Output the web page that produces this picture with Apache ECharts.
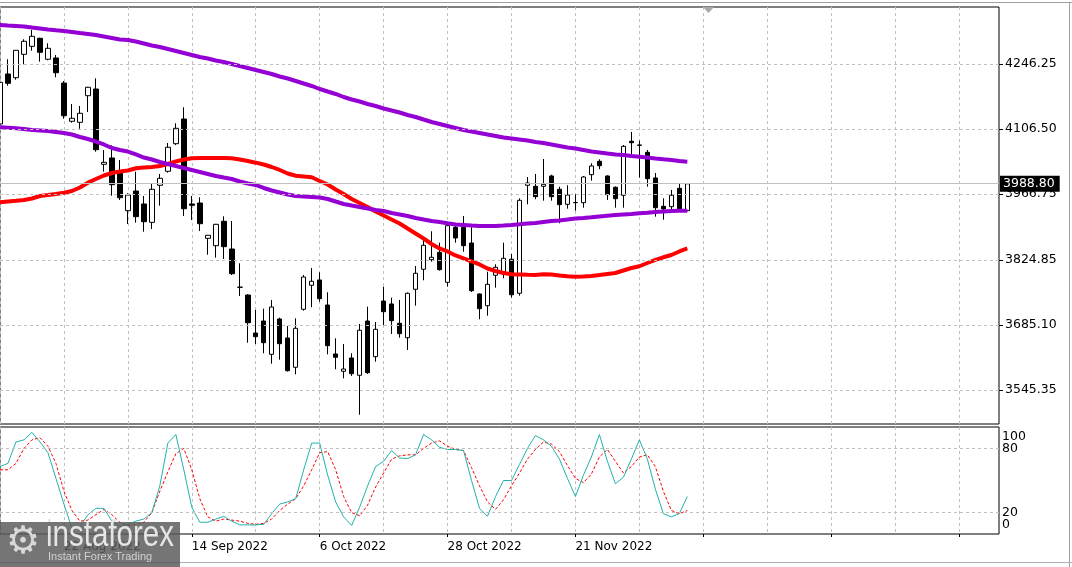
<!DOCTYPE html>
<html><head><meta charset="utf-8">
<script src="https://cdn.jsdelivr.net/npm/echarts@6/dist/echarts.min.js"></script>
<style>html,body{margin:0;padding:0;background:#fff}#c{width:1072px;height:567px}</style>
</head><body><div id="c"></div>
<script>
const dates = [
'10 Aug 2022','11 Aug 2022','12 Aug 2022','15 Aug 2022','16 Aug 2022','17 Aug 2022','18 Aug 2022','19 Aug 2022','22 Aug 2022','23 Aug 2022',
'24 Aug 2022','25 Aug 2022','26 Aug 2022','29 Aug 2022','30 Aug 2022','31 Aug 2022','1 Sep 2022','2 Sep 2022','6 Sep 2022','7 Sep 2022',
'8 Sep 2022','9 Sep 2022','12 Sep 2022','13 Sep 2022','14 Sep 2022','15 Sep 2022','16 Sep 2022','19 Sep 2022','20 Sep 2022','21 Sep 2022',
'22 Sep 2022','23 Sep 2022','26 Sep 2022','27 Sep 2022','28 Sep 2022','29 Sep 2022','30 Sep 2022','3 Oct 2022','4 Oct 2022','5 Oct 2022',
'6 Oct 2022','7 Oct 2022','10 Oct 2022','11 Oct 2022','12 Oct 2022','13 Oct 2022','14 Oct 2022','17 Oct 2022','18 Oct 2022','19 Oct 2022',
'20 Oct 2022','21 Oct 2022','24 Oct 2022','25 Oct 2022','26 Oct 2022','27 Oct 2022','28 Oct 2022','31 Oct 2022','1 Nov 2022','2 Nov 2022',
'3 Nov 2022','4 Nov 2022','7 Nov 2022','8 Nov 2022','9 Nov 2022','10 Nov 2022','11 Nov 2022','14 Nov 2022','15 Nov 2022','16 Nov 2022',
'17 Nov 2022','18 Nov 2022','21 Nov 2022','22 Nov 2022','23 Nov 2022','25 Nov 2022','28 Nov 2022','29 Nov 2022','30 Nov 2022','1 Dec 2022',
'2 Dec 2022','5 Dec 2022','6 Dec 2022','7 Dec 2022','8 Dec 2022','9 Dec 2022','12 Dec 2022'];

const opens = [
4117.3,4224.8,4216.8,4267.1,4284.3,4301.5,4256.4,4259.2,4205.4,4123.1,
4120.9,4178.1,4192.5,4030.6,4044.2,4011.3,3930.9,3973.2,3945.3,3905.9,
3985.5,4015.6,4074.9,4128.0,3945.3,3947.4,3871.5,3855.6,3908.1,3848.5,
3766.2,3749.6,3667.9,3693.7,3622.1,3698.0,3657.2,3594.2,3718.9,3770.5,
3781.9,3728.1,3622.8,3585.6,3614.2,3577.0,3693.7,3617.0,3736.7,3730.3,
3688.8,3657.8,3761.9,3804.9,3825.5,3841.4,3776.9,3895.2,3895.2,3861.4,
3751.8,3726.6,3792.0,3799.7,3826.4,3753.3,3985.5,3983.3,3983.3,4005.5,
3976.9,3944.6,3948.1,3948.1,4008.3,4037.1,4005.5,3981.2,3964.0,4080.1,
4072.1,4056.4,4001.2,3940.3,3939.5,3979.0,3930.9];
const closes = [
4206.9,4204.8,4275.7,4295.1,4305.8,4271.4,4280.0,4227.5,4135.1,4129.5,
4140.3,4196.2,4062.0,4034.9,3986.8,3958.8,3964.6,3918.0,3907.2,3976.9,
4000.5,4067.2,4108.0,3935.1,3942.5,3902.9,3878.0,3901.6,3853.5,3795.4,
3766.5,3690.0,3660.0,3647.1,3723.8,3644.9,3586.9,3678.0,3788.3,3779.1,
3741.7,3640.6,3615.7,3590.5,3580.4,3673.8,3582.6,3675.9,3713.7,3694.4,
3666.4,3753.3,3796.3,3856.5,3830.7,3804.0,3898.6,3872.2,3855.6,3758.8,
3720.2,3772.6,3809.2,3828.5,3750.1,3953.2,3990.4,3961.0,3987.6,3961.0,
3943.8,3964.6,3948.5,4003.3,4027.0,4027.6,3965.3,3956.7,4069.3,4077.1,
4071.5,3999.7,3937.3,3934.5,3964.0,3933.9,3988.8];
const lows = [
4110.8,4199.6,4212.5,4245.6,4274.9,4251.2,4254.2,4217.7,4128.6,4120.1,
4107.1,4143.1,4057.7,4014.7,3963.1,3953.9,3902.3,3905.1,3885.7,3891.5,
3941.6,4012.6,4072.1,3919.5,3910.9,3887.2,3836.3,3829.8,3827.0,3792.6,
3747.5,3647.1,3644.3,3624.3,3601.9,3610.5,3585.0,3579.1,3715.9,3723.2,
3735.2,3622.1,3589.9,3570.5,3575.5,3492.3,3580.0,3606.2,3685.1,3665.8,
3657.8,3631.4,3726.6,3781.2,3821.2,3802.0,3767.5,3862.1,3842.7,3756.0,
3697.4,3705.1,3765.3,3785.5,3743.8,3748.1,3944.6,3955.5,3952.4,3952.4,
3903.8,3935.2,3930.9,3937.3,3995.4,4019.9,3953.9,3937.3,3937.3,4051.3,
4001.8,3982.5,3918.0,3911.5,3934.5,3932.0,3930.0];
const highs = [
4211.9,4256.4,4276.4,4299.4,4319.4,4303.0,4290.8,4265.6,4209.7,4160.3,
4156.0,4197.0,4215.5,4061.4,4071.5,4039.9,3968.3,4014.7,3962.5,3988.3,
4009.8,4076.4,4118.8,4153.2,3962.5,3959.7,3878.5,3902.5,3918.8,3908.7,
3817.8,3751.0,3717.4,3720.2,3738.9,3700.8,3683.0,3699.5,3792.6,3807.7,
3798.4,3755.4,3656.5,3644.3,3624.3,3687.3,3724.5,3691.6,3767.5,3743.8,
3738.9,3755.0,3812.0,3867.9,3886.6,3862.1,3906.6,3900.1,3919.5,3895.2,
3753.0,3799.7,3815.6,3862.1,3837.8,3957.5,4003.3,4009.8,4042.0,4008.3,
3982.5,3985.5,3966.1,4005.5,4032.8,4041.4,4007.0,3983.0,4072.1,4100.1,
4081.4,4061.4,4011.9,3957.5,3975.4,3988.3,3989.5];

const maSlow = [
4330.1,4329.0,4328.0,4326.9,4324.7,4322.6,4320.4,4318.7,4317.2,4315.1,
4312.9,4310.8,4308.6,4305.4,4302.2,4298.9,4297.9,4294.6,4290.3,4286.0,
4282.8,4278.5,4274.2,4269.9,4265.6,4261.3,4258.1,4253.8,4250.5,4246.3,
4242.0,4237.7,4233.4,4229.1,4224.8,4219.4,4215.1,4209.7,4204.3,4199.0,
4192.5,4187.1,4181.8,4175.3,4169.9,4165.6,4160.3,4156.0,4150.6,4146.3,
4142.0,4136.6,4132.3,4126.9,4121.6,4117.3,4113.0,4108.7,4104.4,4101.1,
4097.9,4094.7,4091.5,4088.2,4086.1,4083.9,4081.8,4078.6,4076.4,4073.2,
4070.0,4066.7,4064.6,4061.4,4058.1,4056.0,4053.8,4051.7,4050.6,4048.5,
4047.0,4045.2,4043.1,4041.4,4039.9,4037.7,4036.2];
const maMid = [
4110.2,4109.1,4108.0,4106.5,4104.4,4103.3,4102.2,4100.1,4097.9,4094.7,
4089.3,4085.0,4079.6,4073.2,4065.7,4061.4,4058.1,4051.7,4045.2,4040.9,
4035.6,4031.3,4027.0,4022.7,4018.4,4014.1,4009.8,4005.5,4002.2,3999.0,
3993.6,3989.3,3986.1,3979.7,3974.3,3970.0,3965.7,3962.5,3961.4,3960.3,
3959.2,3956.0,3950.6,3945.3,3942.0,3938.8,3935.6,3932.4,3930.2,3925.9,
3922.7,3919.5,3915.2,3911.9,3908.7,3906.6,3903.8,3901.2,3900.1,3899.0,
3898.0,3898.0,3898.0,3899.0,3900.1,3901.6,3903.3,3904.4,3906.6,3908.7,
3909.8,3911.9,3914.1,3915.2,3916.7,3918.4,3920.1,3921.6,3922.7,3923.8,
3925.3,3926.6,3928.1,3929.1,3930.2,3930.7,3930.9];
const maFast = [
3948.9,3950.6,3952.1,3953.9,3957.1,3962.5,3964.6,3966.8,3969.6,3973.2,
3980.8,3991.1,3999.0,4006.5,4011.9,4015.1,4017.3,4022.0,4023.8,4024.8,
4027.0,4031.3,4036.6,4040.9,4043.5,4044.2,4044.2,4044.2,4044.2,4043.5,
4040.9,4037.7,4034.1,4030.2,4024.8,4018.4,4010.8,4006.1,4004.4,4002.7,
3994.7,3987.2,3976.4,3966.8,3956.0,3947.4,3938.8,3929.2,3920.6,3912.0,
3903.4,3892.6,3881.9,3871.1,3859.3,3849.6,3843.2,3834.6,3828.1,3821.7,
3815.2,3806.6,3801.2,3796.9,3794.2,3793.7,3793.1,3792.6,3794.2,3793.7,
3791.6,3789.9,3789.0,3789.4,3790.5,3792.6,3794.8,3796.9,3802.3,3807.7,
3811.4,3818.4,3824.9,3830.7,3835.6,3843.2,3849.6];

const stochK = [
63,66,86,88,95,86,76,52,28,5,
7,18,24,24,12,7,9,12,14,20,
45,85,93,60,25,11,11,14,16.5,12,
8.5,8.5,8.5,9,19,28,30,33,60,85,
85,55,30,16,8,25,45,63,68,78,
71,70.5,74,93,88,81,79,79,78,50,
24,16.5,35,50,50,65,80,92,88,82,
70,52,35,55,72,93,68,47,53,70,
88,70,42,19,16,19,35];
const stochD = [
60,60,66,80,88,90,82,66,40,22,
12,13,18,23,18,11,8,9,11,20,
40,58,75,80,60,33,16,12,14,13,
12,10,9,10,14,22,28,33,45,60,
76,77,60,35,20,17,27,44,57,70,
73,74,74,80,85,87,82,79,78,62,
45,30,23,32,45,57,70,79,86,84,
77,64,52,48,56,72,79,68,57,63,
72,74,63,40,22,19,22];

const priceTicks = [3545.35, 3685.10, 3824.85, 3966.75, 4106.50, 4246.25];
const stochLevels = [20, 80];
const stochTop = [100];
const stochBottom = [0];
const lastPrice = 3988.80;
const futureBars = 39;

const cats = dates.concat(new Array(futureBars).fill(''));
const candles = dates.map((d, i) => [opens[i], closes[i], lows[i], highs[i]]);
const FONT = 'DejaVu Sans';
const GRID_LS = {color: '#c0c0c0', type: [3, 3], width: 1};
const labelEvery = (i) => i % 16 === 8;

function stochAxis(values, vAlign, pad) {
  return {type: 'value', gridIndex: 1, position: 'right', min: 0, max: 100,
    axisLine: {show: false}, axisTick: {show: false}, splitLine: {show: false},
    axisLabel: {customValues: values, showMinLabel: true, showMaxLabel: true, hideOverlap: false,
      margin: 3, color: '#000', fontSize: 12.5, fontFamily: FONT, verticalAlign: vAlign, padding: pad}};
}

const chart = echarts.init(document.getElementById('c'), null, {renderer: 'canvas'});
chart.setOption({
  animation: false,
  backgroundColor: '#fff',
  grid: [
    {left: -1, top: 7, width: 1000, height: 417, show: true, borderColor: '#000', borderWidth: 1},
    {left: -1, top: 427, width: 1000, height: 107, show: true, borderColor: '#000', borderWidth: 1}
  ],
  xAxis: [
    {type: 'category', gridIndex: 0, data: cats, boundaryGap: false,
     axisLine: {show: false}, axisTick: {show: false}, axisLabel: {show: false},
     splitLine: {show: true, interval: 7, lineStyle: GRID_LS}},
    {type: 'category', gridIndex: 1, data: cats, boundaryGap: false,
     axisLine: {show: false},
     axisTick: {show: true, interval: labelEvery, length: 3, lineStyle: {color: '#000'}},
     axisLabel: {show: true, interval: labelEvery, align: 'left', margin: 7, color: '#000', fontSize: 12, fontFamily: FONT},
     splitLine: {show: true, interval: 7, lineStyle: GRID_LS}}
  ],
  yAxis: [
    {type: 'value', gridIndex: 0, position: 'right', min: 3472.25, max: 4368.8,
     axisLine: {show: false},
     axisTick: {show: true, customValues: priceTicks, length: 4, lineStyle: {color: '#000'}},
     axisLabel: {customValues: priceTicks, formatter: (v) => v.toFixed(2), margin: 6, color: '#000', fontSize: 12.5, fontFamily: FONT},
     splitLine: {show: false}},
    stochAxis(stochLevels, 'middle', 0),
    stochAxis(stochTop, 'top', [3, 0, 0, 0]),
    stochAxis(stochBottom, 'bottom', [0, 0, 3, 0])
  ],
  series: [
    {type: 'line', xAxisIndex: 0, yAxisIndex: 0, data: [], z: 1,
     markLine: {silent: true, symbol: 'none', animation: false, label: {show: false},
       lineStyle: GRID_LS, data: priceTicks.map(v => ({yAxis: v}))}},
    {type: 'line', xAxisIndex: 1, yAxisIndex: 1, data: [], z: 1,
     markLine: {silent: true, symbol: 'none', animation: false, label: {show: false},
       lineStyle: GRID_LS, data: stochLevels.map(v => ({yAxis: v}))}},
    {type: 'candlestick', xAxisIndex: 0, yAxisIndex: 0, data: candles, barWidth: 5,
     itemStyle: {color: '#fff', color0: '#000', borderColor: '#000', borderColor0: '#000', borderWidth: 1},
     markLine: {silent: true, symbol: 'none', animation: false,
       lineStyle: {color: '#c0c0c0', type: 'solid', width: 1},
       label: {position: 'end', formatter: lastPrice.toFixed(2), backgroundColor: '#000', color: '#fff',
               padding: [2, 5, 1, 3], distance: 1, fontSize: 12.5, fontFamily: FONT},
       data: [{yAxis: lastPrice}]}},
    {type: 'line', xAxisIndex: 0, yAxisIndex: 0, data: maFast, symbol: 'none', lineStyle: {color: '#ff0000', width: 4}},
    {type: 'line', xAxisIndex: 0, yAxisIndex: 0, data: maMid, symbol: 'none', lineStyle: {color: '#9400d3', width: 4}},
    {type: 'line', xAxisIndex: 0, yAxisIndex: 0, data: maSlow, symbol: 'none', lineStyle: {color: '#9400d3', width: 4}},
    {type: 'line', xAxisIndex: 1, yAxisIndex: 1, data: stochD, symbol: 'none', lineStyle: {color: '#ff0000', width: 1, type: [3, 2]}},
    {type: 'line', xAxisIndex: 1, yAxisIndex: 1, data: stochK, symbol: 'none', lineStyle: {color: '#20b2aa', width: 1}}
  ],
  graphic: [
    {type: 'line', shape: {x1: 0, y1: 2.5, x2: 1072, y2: 2.5}, style: {stroke: '#a0a0a0', lineWidth: 1}, silent: true},
    {type: 'line', shape: {x1: 1069.5, y1: 2.5, x2: 1069.5, y2: 567}, style: {stroke: '#a0a0a0', lineWidth: 1}, silent: true},
    {type: 'line', shape: {x1: 0, y1: 562.5, x2: 1072, y2: 562.5}, style: {stroke: '#b0b0b0', lineWidth: 1}, silent: true},
    {type: 'polygon', shape: {points: [[703, 7], [714, 7], [708.5, 13]]}, style: {fill: '#a8a8a8'}, silent: true},
    {type: 'rect', shape: {x: 0, y: 522, width: 180, height: 45}, style: {fill: 'rgba(90,90,90,0.84)'}, silent: true, z: 100},
    {type: 'text', x: 6, y: 524, style: {text: '\u2699', fill: '#d8d8d8', font: '38px DejaVu Sans'}, silent: true, z: 101},
    {type: 'text', x: 46, y: 518, scaleX: 0.82, style: {text: 'instaforex', fill: '#e6e6e6', font: '36px Liberation Sans'}, silent: true, z: 101},
    {type: 'text', x: 48, y: 551, style: {text: 'Instant Forex Trading', fill: '#d0d0d0', font: '11px Liberation Sans'}, silent: true, z: 101}
  ]
});
</script></body></html>
